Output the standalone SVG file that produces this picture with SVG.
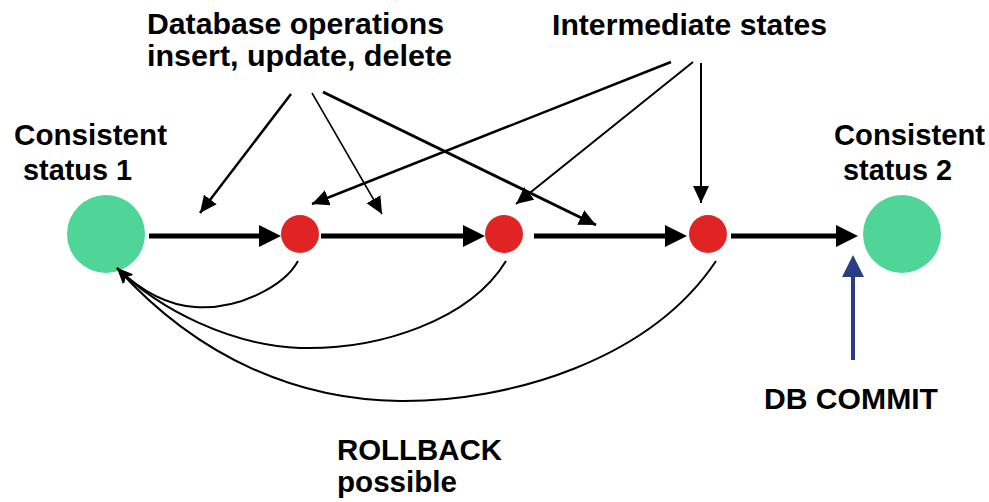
<svg xmlns="http://www.w3.org/2000/svg" width="989" height="502" viewBox="0 0 989 502">
  <style>
    .lbl { font-family: "Liberation Sans", Arial, sans-serif; font-weight: bold; font-size: 30px; fill: #000; }
    .consistent { fill: #4fd598; }
    .inter { fill: #e02424; }
    .flow { stroke: #000; stroke-width: 5; fill: none; }
    .head { fill: #000; }
    .pointer { stroke: #000; fill: none; marker-end: url(#tip); }
    .rollback { stroke: #000; stroke-width: 2; fill: none; marker-end: url(#back); }
  </style>
  <defs>
    <marker id="tip" markerUnits="userSpaceOnUse" markerWidth="18" markerHeight="18" refX="17" refY="8" orient="auto">
      <path d="M0,0 L17,8 L0,16 z" fill="#000"/>
    </marker>
    <marker id="back" markerUnits="userSpaceOnUse" markerWidth="18" markerHeight="14" refX="16" refY="6.5" orient="auto">
      <path d="M0,0 L16,6.5 L0,13 L4,6.5 z" fill="#000"/>
    </marker>
  </defs>

  <!-- labels -->
  <g id="label-operations">
    <text class="lbl" x="147" y="34" textLength="297" lengthAdjust="spacingAndGlyphs">Database operations</text>
    <text class="lbl" x="147" y="66" textLength="305" lengthAdjust="spacingAndGlyphs">insert, update, delete</text>
  </g>
  <g id="label-intermediate">
    <text class="lbl" x="552" y="35" textLength="275" lengthAdjust="spacingAndGlyphs">Intermediate states</text>
  </g>
  <g id="label-rollback">
    <text class="lbl" x="337" y="460" textLength="165" lengthAdjust="spacingAndGlyphs">ROLLBACK</text>
    <text class="lbl" x="337" y="492" textLength="120" lengthAdjust="spacingAndGlyphs">possible</text>
  </g>
  <g id="label-commit">
    <text class="lbl" x="764" y="409" textLength="174" lengthAdjust="spacingAndGlyphs">DB COMMIT</text>
  </g>

  <!-- states -->
  <g id="consistent-1">
    <circle class="consistent" cx="106" cy="234" r="39"/>
    <text class="lbl" x="14" y="145" textLength="153" lengthAdjust="spacingAndGlyphs">Consistent</text>
    <text class="lbl" x="23" y="180" textLength="109" lengthAdjust="spacingAndGlyphs">status 1</text>
  </g>
  <g id="intermediate-1"><circle class="inter" cx="300" cy="234" r="19"/></g>
  <g id="intermediate-2"><circle class="inter" cx="504" cy="234" r="19"/></g>
  <g id="intermediate-3"><circle class="inter" cx="708" cy="234" r="19"/></g>
  <g id="consistent-2">
    <circle class="consistent" cx="902" cy="234" r="39"/>
    <text class="lbl" x="834" y="145" textLength="151" lengthAdjust="spacingAndGlyphs">Consistent</text>
    <text class="lbl" x="843" y="180" textLength="109" lengthAdjust="spacingAndGlyphs">status 2</text>
  </g>

  <g id="connectors">
    <!-- transaction flow -->
    <line class="flow" x1="149" y1="236" x2="262" y2="236"/>
    <polygon class="head" points="259,225 281,236 259,247"/>
    <line class="flow" x1="321" y1="236" x2="466" y2="236"/>
    <polygon class="head" points="463,225 485,236 463,247"/>
    <line class="flow" x1="534" y1="236" x2="668" y2="236"/>
    <polygon class="head" points="665,225 687,236 665,247"/>
    <line class="flow" x1="731" y1="236" x2="839" y2="236"/>
    <polygon class="head" points="836,225 858,236 836,247"/>

    <!-- operations -->
    <line class="pointer" stroke-width="2.5" x1="291" y1="94" x2="200" y2="213"/>
    <line class="pointer" stroke-width="1.5" x1="312" y1="93" x2="382" y2="214"/>
    <line class="pointer" stroke-width="3" x1="323" y1="92" x2="596" y2="225"/>

    <!-- intermediate states -->
    <line class="pointer" stroke-width="2.5" x1="671" y1="62" x2="312" y2="204"/>
    <line class="pointer" stroke-width="2" x1="693" y1="62" x2="516" y2="204"/>
    <line class="pointer" stroke-width="2" x1="701" y1="63" x2="701" y2="203"/>

    <!-- rollback paths -->
    <path class="rollback" d="M298,261 C285,285 240,310 195,307 C165,305 140,290 117,268"/>
    <path class="rollback" d="M506,261 C470,320 380,350 300,348 C230,345 160,310 117,268"/>
    <path class="rollback" d="M716,261 C650,360 510,402 400,401 C300,400 200,360 117,268"/>

    <!-- commit -->
    <line x1="853" y1="360" x2="853" y2="275" stroke="#2a3c84" stroke-width="4"/>
    <polygon points="842,277 853,255 864,277" fill="#2a3c84"/>
  </g>
</svg>
